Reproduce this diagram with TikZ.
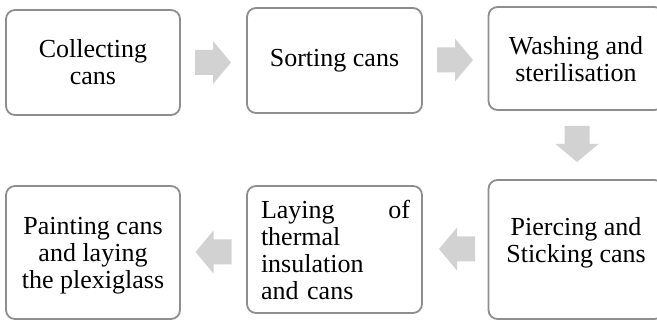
\documentclass[tikz,border=0pt]{standalone}
\usepackage{fontspec}
\setmainfont{LiberationSerif}[Extension=.ttf, UprightFont=*-Regular, BoldFont=*-Bold]
\definecolor{boxgray}{HTML}{8E8E8E}
\definecolor{arrowgray}{HTML}{D2D2D2}
\tikzset{
  box/.style={draw=boxgray, line width=1.8pt, rounded corners=9pt, fill=white, inner sep=0pt},
  txt/.style={font=\fontsize{26}{27}\selectfont, align=center, inner sep=0pt},
  barrow/.pic={\fill[arrowgray] (-18pt,-12.5pt) -- (0pt,-12.5pt) -- (0pt,-21.5pt) -- (18pt,0pt) -- (0pt,21.5pt) -- (0pt,12.5pt) -- (-18pt,12.5pt) -- cycle;}
}
\begin{document}
\begin{tikzpicture}[x=1pt,y=1pt]
\useasboundingbox (0,0) rectangle (657,320);
\clip (0,0) rectangle (657,320);
% boxes
\node[box, minimum width=174pt, minimum height=105pt] (b1) at (93,257.5) {};
\node[box, minimum width=175pt, minimum height=105pt] (b2) at (334.5,259.5) {};
\node[box, minimum width=175pt, minimum height=103pt] (b3) at (576,261.5) {};
\node[box, minimum width=175pt, minimum height=139pt] (b4) at (576,70.5) {};
\node[box, minimum width=175pt, minimum height=127pt] (b5) at (334.5,70.5) {};
\node[box, minimum width=174pt, minimum height=133pt] (b6) at (93,67.5) {};
% texts
\node[txt] (t1) at (b1.center) {Collecting\\cans};
\node[txt] (t2) at (b2.center) {Sorting cans};
\node[txt] (t3) at ([yshift=-1pt]b3.center) {Washing and\\sterilisation};
\node[txt] (t4) at ([yshift=7pt]b4.center) {Piercing and\\Sticking cans};
\node[txt, text width=149pt, align=left] (t5) at ([xshift=1pt]b5.center) {Laying\hfill of\\thermal\\insulation\\and cans};
\node[txt] (t6) at ([yshift=-3pt]b6.center) {Painting cans\\and laying\\the plexiglass};
% block arrows
\pic at (213,257.5) {barrow};
\pic at (455,260) {barrow};
\pic[rotate=-90] at (577,176) {barrow};
\pic[rotate=180] at (457,71) {barrow};
\pic[rotate=180] at (213.5,68) {barrow};
\end{tikzpicture}
\end{document}
